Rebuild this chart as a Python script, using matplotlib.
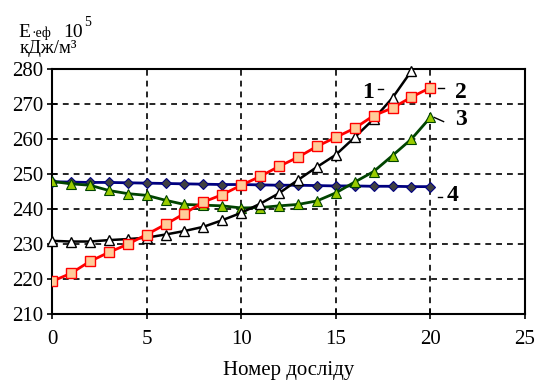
import numpy as np
import matplotlib.pyplot as plt

plt.rcParams['font.family'] = ['Liberation Serif', 'DejaVu Serif']

# номер досліду
x20 = list(range(0, 21))
x19 = list(range(0, 20))

# крива 1 (чорна, трикутники)
s1 = [230.9, 230.7, 230.7, 231.1, 231.4, 231.8, 232.7, 233.7, 234.9, 236.8,
      238.9, 241.5, 244.5, 248.3, 252.0, 255.5, 260.5, 265.7, 271.8, 279.5]
# крива 2 (червона, квадрати)
s2 = [219.3, 221.6, 225.0, 227.6, 229.9, 232.7, 235.6, 238.7, 242.0, 244.1,
      246.8, 249.3, 252.2, 254.8, 257.9, 260.5, 263.1, 266.7, 268.9, 272.0, 274.7]
# крива 3 (зелена, трикутники)
s3 = [247.9, 247.2, 246.8, 245.3, 244.4, 243.9, 242.5, 241.3, 241.1, 240.9,
      240.3, 240.4, 240.9, 241.3, 242.3, 244.6, 247.7, 250.7, 255.3, 260.0, 266.2]
# крива 4 (синя, ромби)
s4 = [247.8, 247.7, 247.6, 247.6, 247.5, 247.4, 247.3, 247.2, 247.1, 247.0,
      247.0, 246.9, 246.8, 246.8, 246.7, 246.6, 246.6, 246.5, 246.5, 246.4, 246.4]

fig = plt.figure(figsize=(5.38, 3.8), dpi=100)
ax = fig.add_axes([0.0967, 0.174, 0.879, 0.644])

ax.plot(x20, s4, color='#000080', lw=2, marker='D', ms=5.5, mfc='#404040',
        mec='#000080', mew=0.8, zorder=3)
ax.plot(x20, s3, color='#004400', lw=2, marker='^', ms=7, mfc='#99cc00',
        mec='#004400', mew=0.8, zorder=4)
ax.plot(x19, s1, color='black', lw=1.8, marker='^', ms=7.5, mfc='white',
        mec='black', mew=1, zorder=5, clip_on=False)
ax.plot(x20, s2, color='#ff0000', lw=2, marker='s', ms=7, mfc='#ffcc99',
        mec='#ff0000', mew=1, zorder=6)

ax.set_xlim(0, 25)
ax.set_ylim(210, 280)
ax.set_xticks(range(0, 26, 5))
ax.set_yticks(range(210, 281, 10))
ax.grid(True, color='black', linestyle=(0, (3.5, 3)), lw=1.2)
for sp in ax.spines.values():
    sp.set_linewidth(1.5)
ax.tick_params(direction='inout', length=7, width=1.2, labelsize=15, pad=3)
ax.tick_params(axis='x', pad=8)

ax.set_xlabel('Номер досліду', fontsize=15, labelpad=9)

# підпис осі y
fig.text(0.034, 0.903, 'Е', fontsize=14, ha='left', va='baseline')
fig.text(0.058, 0.903, '·еф', fontsize=10, ha='left', va='baseline')
fig.text(0.118, 0.903, '10', fontsize=14, ha='left', va='baseline')
fig.text(0.156, 0.932, '5', fontsize=10, ha='left', va='baseline')
fig.text(0.036, 0.86, 'кДж/м³', fontsize=13.5, ha='left', va='baseline')

# позначення кривих
lab = dict(fontsize=17, fontweight='bold', ha='center', va='center')
ax.text(16.7, 273.3, '1', **lab)
ax.text(21.6, 273.3, '2', **lab)
ax.text(21.6, 265.6, '3', **lab)
ax.text(21.2, 244.0, '4', **lab)
ax.plot([17.25, 17.5], [274.4, 274.4], color='black', lw=1)
ax.plot([20.4, 20.7], [274.7, 274.7], color='black', lw=1)
ax.plot([20.2, 20.7], [266.2, 265.0], color='black', lw=1)
ax.plot([20.4, 20.6], [243.4, 243.4], color='black', lw=1)

fig.savefig('out.png', dpi=100)
